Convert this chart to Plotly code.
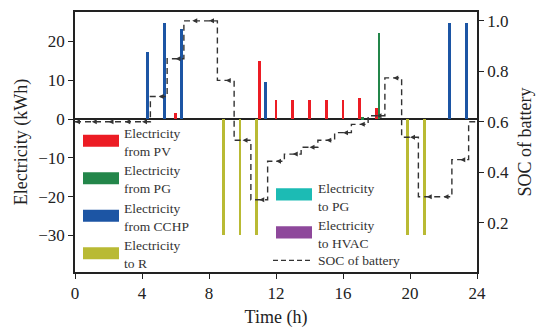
import plotly.graph_objects as go

# ---- data ----
hours = list(range(1, 25))
pv   = [0,0,0,0,0,1.5,0,0,0,0,15.0,4.8,4.8,4.8,4.8,4.8,5.5,2.8,0,0,0,0,0,0]
pg   = [0,0,0,0,0,0,0,0,0,0,0,0,0,0,0,0,0.4,22.1,0,0,0,0,0,0]
cchp = [0,0,0,17.3,24.8,23.3,0,0,0,0,9.5,0,0,0,0,0,0,0,0,0,0,24.8,24.8,0]
to_r = [0,0,0,0,0,0,0,0,-30,-30,-30,0,0,0,0,0,0,0,0,-30,-30,0,0,0]
to_pg = [0]*24
to_hvac = [0]*24
soc_hours = list(range(0, 25))
soc = [0.60,0.60,0.60,0.60,0.60,0.70,0.85,1.00,1.00,0.764,0.527,0.291,0.444,0.472,
       0.499,0.527,0.557,0.590,0.624,0.774,0.539,0.303,0.303,0.450,0.60]
x_ticks = [0, 4, 8, 12, 16, 20, 24]
y_ticks = [-30, -20, -10, 0, 10, 20]
soc_ticks = [0.2, 0.4, 0.6, 0.8, 1.0]

C_PV, C_PG, C_CCHP, C_R, C_TPG, C_HVAC = "#EC1C24", "#23864A", "#1C55A4", "#B9BA34", "#1CBBB4", "#8E489B"
FONT = "Liberation Serif"
W = 0.17

fig = go.Figure()
def add_bar(vals, color, shift, name):
    fig.add_trace(go.Bar(x=hours, y=vals, width=W, offset=shift - W/2,
                         marker=dict(color=color, line=dict(width=0)), name=name,
                         showlegend=False))

add_bar(pv, C_PV, 0.0, "Electricity from PV")
add_bar(pg, C_PG, 0.15, "Electricity from PG")
add_bar(cchp, C_CCHP, 0.35, "Electricity from CCHP")
add_bar(to_r, C_R, -0.15, "Electricity to R")
add_bar(to_pg, C_TPG, 0.0, "Electricity to PG")
add_bar(to_hvac, C_HVAC, 0.0, "Electricity to HVAC")

fig.add_trace(go.Scatter(x=soc_hours, y=soc, yaxis="y2", mode="lines+markers",
                         line=dict(shape="hvh", dash="6px,4px", color="#333333", width=1.4),
                         marker=dict(symbol="arrow-left", size=5, color="#333333"),
                         name="SOC of battery", showlegend=False))

# ---- manual legend ----
L, R_, T, B = 75, 477, 10, 277
def px(x): return (x - L) / (R_ - L)
def py(y): return (B - y) / (B - T)

shapes = []
annos = []
items1 = [(C_PV, "Electricity<br>from PV", 136), (C_PG, "Electricity<br>from PG", 174.5),
          (C_CCHP, "Electricity<br>from CCHP", 213), (C_R, "Electricity<br>to R", 251.5)]
for col, txt, top in items1:
    shapes.append(dict(type="rect", xref="paper", yref="paper", x0=px(83), x1=px(119),
                       y0=py(top + 12.5), y1=py(top), fillcolor=col, line=dict(width=0)))
    annos.append(dict(xref="paper", yref="paper", x=px(122), y=py(top + 8), text=txt,
                      showarrow=False, xanchor="left", yanchor="middle", align="left",
                      font=dict(family=FONT, size=13.5, color="#333333")))
items2 = [(C_TPG, "Electricity<br>to PG", 191), (C_HVAC, "Electricity<br>to HVAC", 230)]
for col, txt, top in items2:
    shapes.append(dict(type="rect", xref="paper", yref="paper", x0=px(276), x1=px(312),
                       y0=py(top + 12.5), y1=py(top), fillcolor=col, line=dict(width=0)))
    annos.append(dict(xref="paper", yref="paper", x=px(316), y=py(top + 9), text=txt,
                      showarrow=False, xanchor="left", yanchor="middle", align="left",
                      font=dict(family=FONT, size=13.5, color="#333333")))
shapes.append(dict(type="line", xref="paper", yref="paper", x0=px(273), x1=px(312),
                   y0=py(265), y1=py(265), line=dict(color="#333333", width=1.3, dash="5px,3px")))
annos.append(dict(xref="paper", yref="paper", x=px(316), y=py(265), text="SOC of battery",
                  showarrow=False, xanchor="left", yanchor="middle",
                  font=dict(family=FONT, size=13.5, color="#333333")))

axis_common = dict(showline=True, linecolor="#222222", linewidth=1.5, ticks="outside",
                   ticklen=5, tickwidth=1.3, tickcolor="#222222", showgrid=False,
                   tickfont=dict(family=FONT, size=17, color="#222222"))

fig.update_layout(
    width=545, height=334, margin=dict(l=75, r=68, t=10, b=57),
    paper_bgcolor="white", plot_bgcolor="white", barmode="overlay", bargap=0,
    showlegend=False, font=dict(family=FONT, color="#222222"),
    xaxis=dict(range=[0, 24], tickvals=x_ticks, mirror=True,
               title=dict(text="Time (h)", font=dict(family=FONT, size=18), standoff=8),
               zeroline=False, **axis_common),
    yaxis=dict(range=[-39.45, 27.6], tickvals=y_ticks, zeroline=True, zerolinecolor="#222222",
               zerolinewidth=1.5,
               title=dict(text="Electricity (kWh)", font=dict(family=FONT, size=18), standoff=6),
               **axis_common),
    yaxis2=dict(range=[0.005, 1.035], tickvals=soc_ticks, tickformat=".1f", overlaying="y",
                side="right", zeroline=False,
                title=dict(text="SOC of battery", font=dict(family=FONT, size=18), standoff=10),
                **axis_common),
    shapes=shapes, annotations=annos,
)

fig.write_html("out.html")
